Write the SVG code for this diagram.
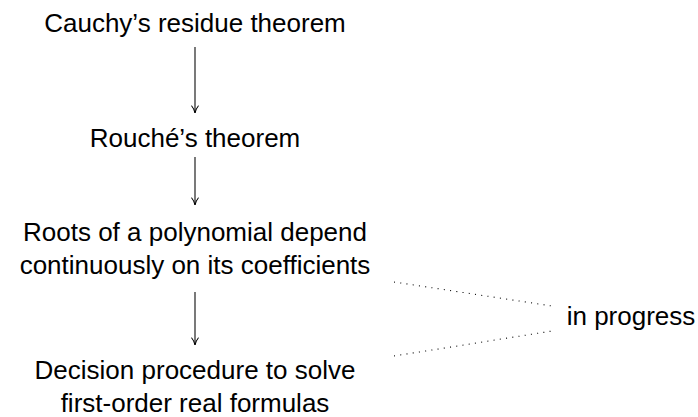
<svg xmlns="http://www.w3.org/2000/svg" width="698" height="417" viewBox="0 0 698 417">
<style>
text{font-family:"Liberation Sans",Arial,sans-serif;font-size:26px;fill:#000;text-anchor:middle}
.arr{stroke:#000;stroke-width:1.05;fill:none;marker-end:url(#to)}
.dot{stroke:#000;stroke-width:1.05;fill:none;stroke-dasharray:1.05 5.25}
</style>
<defs>
<marker id="to" markerUnits="userSpaceOnUse" markerWidth="12" markerHeight="10" viewBox="-9 -5 12 10" refX="0" refY="0" orient="auto" overflow="visible">
<path d="M -7,-3.3 C -5,-1.5 -1.6,-0.35 0,0 C -1.6,0.35 -5,1.5 -7,3.3" stroke="#000" stroke-width="1.05" fill="none" stroke-linecap="round"/>
</marker>
</defs>
<g id="cauchy"><text x="195" y="32">Cauchy’s residue theorem</text></g>
<g id="rouche"><text x="195" y="147">Rouché’s theorem</text></g>
<g id="roots"><text x="195" y="241">Roots of a polynomial depend</text><text x="195" y="274">continuously on its coefficients</text></g>
<g id="decision"><text x="195" y="379">Decision procedure to solve</text><text x="195" y="412">first-order real formulas</text></g>
<g id="progress"><text x="631" y="325">in progress</text></g>
<g id="connectors">
<line class="arr" x1="195" y1="47" x2="195" y2="113"/>
<line class="arr" x1="195" y1="157" x2="195" y2="205"/>
<line class="arr" x1="195" y1="292" x2="195" y2="345"/>
<line class="dot" x1="394" y1="282" x2="552" y2="306"/>
<line class="dot" x1="394" y1="356" x2="552" y2="331"/>
</g>
</svg>
